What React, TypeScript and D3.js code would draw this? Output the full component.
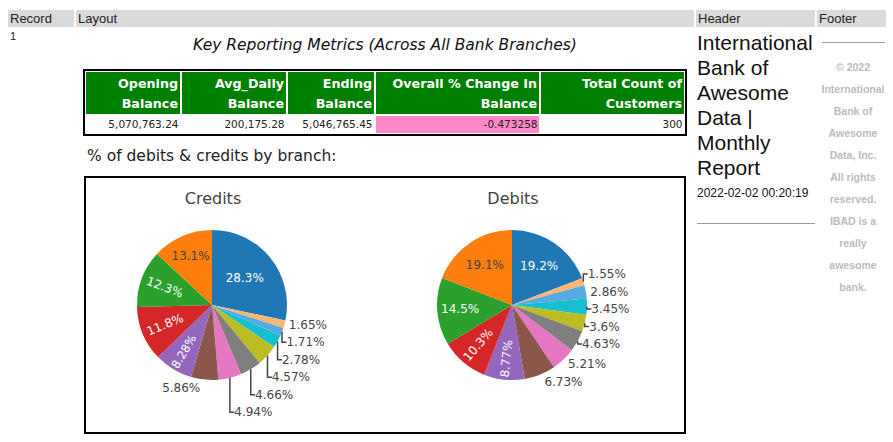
import React, { useEffect, useRef } from "react";
import * as d3 from "d3";

// report metrics table
const metricHeaders = [
  ["Opening", "Balance"],
  ["Avg_Daily", "Balance"],
  ["Ending", "Balance"],
  ["Overall % Change In", "Balance"],
  ["Total Count of", "Customers"],
];
const metricValues = ["5,070,763.24", "200,175.28", "5,046,765.45", "-0.473258", "300"];
const highlightCol = 3;

// pie shares (%), clockwise from 12 o'clock
const creditShares = [28.3, 1.65, 1.71, 2.78, 4.57, 4.66, 4.94, 5.86, 8.28, 11.8, 12.3, 13.1];
const debitShares = [19.2, 1.55, 2.86, 3.45, 3.6, 4.63, 5.21, 6.73, 8.77, 10.3, 14.5, 19.1];
const sliceColorIndex = [0, 11, 10, 9, 8, 7, 6, 5, 4, 3, 2, 1];

const headerTitle = ["International", "Bank of", "Awesome", "Data |", "Monthly", "Report"];
const reportDate = "2022-02-02 00:20:19";
const footerLines = [
  "© 2022", "International", "Bank of", "Awesome", "Data, Inc.", "All rights",
  "reserved.", "IBAD is a", "really", "awesome", "bank.",
];

const colorway = [
  "#1f77b4", "#ff7f0e", "#2ca02c", "#d62728", "#9467bd",
  "#8c564b", "#e377c2", "#7f7f7f", "#bcbd22", "#17becf",
];
// plotly extends the colorway with lightened copies
const extendedColors = colorway.concat(
  colorway.map((c) => {
    const h = d3.hsl(c);
    h.l = Math.min(1, h.l + 0.2);
    return h.formatHex();
  })
);

const PIE_FONT = "'DejaVu Sans', Verdana, sans-serif";
const R = 75;
const TEXT_H = 17.5;
const TEXTPAD = 3;

function isLight(c) {
  const rgb = d3.rgb(c);
  return (rgb.r * 299 + rgb.g * 587 + rgb.b * 114) / 1000 >= 128;
}

function maxHalfSize(a, halfAngle, r) {
  const q = a + 1 / (2 * Math.tan(halfAngle));
  return r * Math.min(1 / (Math.sqrt(q * q + 0.5) + q), 1 / (Math.sqrt(a * a + 0.5) + a));
}

function rotFor(theta) {
  // theta clockwise from top, radians -> readable rotation in degrees
  let d = ((theta * 180) / Math.PI - 90) % 180;
  if (d < 0) d += 180;
  if (d > 90) d -= 180;
  return d;
}

function drawPie(svg, shares, cx, cy, title) {
  const g = svg.append("g").attr("transform", `translate(${cx},${cy})`);
  const fmt = d3.format(".3~r");
  const arcs = d3.pie().sort(null).value((d) => d)(shares);
  const arc = d3.arc().innerRadius(0).outerRadius(R);

  g.selectAll("path.slice")
    .data(arcs)
    .join("path")
    .attr("class", "slice")
    .attr("d", arc)
    .attr("fill", (d, i) => extendedColors[sliceColorIndex[i]]);

  svg
    .append("text")
    .attr("x", cx + 1)
    .attr("y", cy - 107)
    .attr("text-anchor", "middle")
    .attr("dominant-baseline", "central")
    .style("font-family", PIE_FONT)
    .style("font-size", "16px")
    .attr("fill", "#444")
    .text(title);

  const measure = (s) => {
    const t = g.append("text").style("font-family", PIE_FONT).style("font-size", "12px").text(s);
    const w = t.node().getComputedTextLength();
    t.remove();
    return w;
  };

  const outside = [];
  arcs.forEach((a, i) => {
    const label = fmt(a.data) + "%";
    const w = measure(label);
    const h = TEXT_H;
    const half = (a.endAngle - a.startAngle) / 2;
    const mid = (a.startAngle + a.endAngle) / 2;
    const sx = Math.sin(mid);
    const sy = -Math.cos(mid);
    const color = extendedColors[sliceColorIndex[i]];

    // try horizontal inside
    const sinH = Math.sin(half);
    const rIns = Math.min(sinH / (1 + sinH), 0.5);
    const diam = Math.sqrt(w * w + h * h);
    const cands = [];
    const hScale = (rIns * R * 2) / diam;
    let best = null;
    if (hScale >= 1) {
      best = { scale: 1, rCenter: 1 - rIns, rotate: 0 };
    } else {
      cands.push({ scale: hScale, rCenter: 1 - rIns, rotate: 0 });
      const rr = R - 2 * TEXTPAD;
      const aR = w / h;
      const sR = maxHalfSize(aR, half, rr);
      cands.push({ scale: (sR * 2) / h, rCenter: Math.cos(sR / rr) - aR * (sR / rr), rotate: rotFor(mid) });
      const aT = h / w;
      const sT = maxHalfSize(aT, half, rr);
      cands.push({ scale: (sT * 2) / w, rCenter: Math.cos(sT / rr) - aT * (sT / rr), rotate: rotFor(mid + Math.PI / 2) });
      best = cands.reduce((m, c) => (c.scale > m.scale ? c : m));
    }

    if (best.scale >= 0.9) {
      const x = sx * R * best.rCenter;
      const y = sy * R * best.rCenter;
      g.append("text")
        .attr("transform", `translate(${x},${y}) rotate(${best.rotate}) scale(${Math.min(1, best.scale)})`)
        .attr("text-anchor", "middle")
        .attr("dominant-baseline", "central")
        .style("font-family", PIE_FONT)
        .style("font-size", "12px")
        .attr("fill", isLight(color) ? "#444" : "#fff")
        .text(label);
    } else {
      const px = sx * R;
      const py = sy * R;
      let dx = w / 2;
      let dy = h / 2;
      if (px < 0) dx *= -1;
      if (py < 0) dy *= -1;
      const tx = dx + (Math.abs(dy) * (dx > 0 ? 1 : -1)) / 2;
      const ty = Math.abs(py) < 1e-6 ? 0 : dy / (1 + (px * px) / (py * py));
      outside.push({ label, px, py, w, cxBox: px + tx, y: py + ty, y0: py + ty, right: px >= 0 });
    }
  });

  // push colliding outside labels away from the equator
  [true, false].forEach((side) => {
    const items = outside.filter((o) => o.right === side);
    const upper = items.filter((o) => o.y0 < 0).sort((a, b) => b.y0 - a.y0);
    const lower = items.filter((o) => o.y0 >= 0).sort((a, b) => a.y0 - b.y0);
    for (let k = 1; k < upper.length; k++) {
      if (upper[k].y > upper[k - 1].y - TEXT_H) upper[k].y = upper[k - 1].y - TEXT_H;
    }
    let prev = upper.length ? upper[0].y : null;
    lower.forEach((o) => {
      if (prev !== null && o.y < prev + TEXT_H) o.y = prev + TEXT_H;
      prev = o.y;
    });
  });

  outside.forEach((o) => {
    const edgeX = o.right ? o.cxBox - o.w / 2 : o.cxBox + o.w / 2;
    if (Math.abs(o.y - o.y0) > 0.5) {
      g.append("path")
        .attr("d", `M${o.px},${o.py}V${o.y}H${edgeX}`)
        .attr("fill", "none")
        .attr("stroke", "#444")
        .attr("stroke-width", 1.5);
    }
    g.append("text")
      .attr("x", edgeX)
      .attr("y", o.y)
      .attr("text-anchor", o.right ? "start" : "end")
      .attr("dominant-baseline", "central")
      .style("font-family", PIE_FONT)
      .style("font-size", "12px")
      .attr("fill", "#444")
      .text(o.label);
  });
}

export default function App() {
  const ref = useRef(null);

  useEffect(() => {
    const svg = d3.select(ref.current);
    svg.selectAll("*").remove();

    const ARIAL = "'Liberation Sans', Arial, sans-serif";
    const TAHOMA = "'DejaVu Sans', Tahoma, sans-serif";

    // column header bars
    const bars = [
      { x: 8, w: 66, t: "Record" },
      { x: 76, w: 618, t: "Layout" },
      { x: 696, w: 119, t: "Header" },
      { x: 817, w: 69, t: "Footer" },
    ];
    bars.forEach((b) => {
      svg.append("rect").attr("x", b.x).attr("y", 10).attr("width", b.w).attr("height", 17).attr("fill", "#dadada");
      svg
        .append("text")
        .attr("x", b.x + 2)
        .attr("y", 23)
        .style("font-family", ARIAL)
        .style("font-size", "13px")
        .attr("fill", "#222")
        .text(b.t);
    });
    svg.append("text").attr("x", 10).attr("y", 40).style("font-family", ARIAL).style("font-size", "11px").attr("fill", "#222").text("1");

    // title
    svg
      .append("text")
      .attr("x", 385)
      .attr("y", 45)
      .attr("text-anchor", "middle")
      .attr("dominant-baseline", "central")
      .style("font-family", TAHOMA)
      .style("font-style", "italic")
      .style("font-size", "15.5px")
      .attr("fill", "#111")
      .text("Key Reporting Metrics (Across All Bank Branches)");

    // metrics table
    const cols = [
      [86, 180],
      [182, 286],
      [288, 374],
      [376, 539],
      [541, 684],
    ];
    svg.append("rect").attr("x", 84).attr("y", 70).attr("width", 602).attr("height", 65).attr("fill", "none").attr("stroke", "#000").attr("stroke-width", 2);
    cols.forEach(([x0, x1], i) => {
      svg.append("rect").attr("x", x0).attr("y", 72).attr("width", x1 - x0).attr("height", 42).attr("fill", "#008000");
      metricHeaders[i].forEach((line, j) => {
        svg
          .append("text")
          .attr("x", x1 - 2)
          .attr("y", 83 + j * 20)
          .attr("text-anchor", "end")
          .attr("dominant-baseline", "central")
          .style("font-family", TAHOMA)
          .style("font-weight", "bold")
          .style("font-size", "12.7px")
          .attr("fill", "#fff")
          .text(line);
      });
      if (i === highlightCol) {
        svg.append("rect").attr("x", x0).attr("y", 116).attr("width", x1 - x0).attr("height", 17).attr("fill", "#ff88c8");
      }
      svg
        .append("text")
        .attr("x", x1 - 1.5)
        .attr("y", 124)
        .attr("text-anchor", "end")
        .attr("dominant-baseline", "central")
        .style("font-family", TAHOMA)
        .style("font-size", "10.5px")
        .attr("fill", "#222")
        .text(metricValues[i]);
    });

    svg
      .append("text")
      .attr("x", 87)
      .attr("y", 156)
      .attr("dominant-baseline", "central")
      .style("font-family", TAHOMA)
      .style("font-size", "15.5px")
      .attr("fill", "#222")
      .text("% of debits & credits by branch:");

    // chart box
    svg.append("rect").attr("x", 85).attr("y", 177).attr("width", 600).attr("height", 256).attr("fill", "#fff").attr("stroke", "#000").attr("stroke-width", 2);
    drawPie(svg, creditShares, 212, 305, "Credits");
    drawPie(svg, debitShares, 512, 305, "Debits");

    // header column
    headerTitle.forEach((line, i) => {
      svg
        .append("text")
        .attr("x", 697)
        .attr("y", 42 + i * 25)
        .attr("dominant-baseline", "central")
        .style("font-family", ARIAL)
        .style("font-size", "21px")
        .attr("fill", "#111")
        .text(line);
    });
    svg.append("text").attr("x", 697).attr("y", 193).attr("dominant-baseline", "central").style("font-family", ARIAL).style("font-size", "12px").attr("fill", "#111").text(reportDate);
    svg.append("line").attr("x1", 697).attr("x2", 815).attr("y1", 223.5).attr("y2", 223.5).attr("stroke", "#999").attr("stroke-width", 1);

    // footer column
    svg.append("line").attr("x1", 822).attr("x2", 885).attr("y1", 42.5).attr("y2", 42.5).attr("stroke", "#999").attr("stroke-width", 1);
    footerLines.forEach((line, i) => {
      svg
        .append("text")
        .attr("x", 853)
        .attr("y", 67 + i * 22)
        .attr("text-anchor", "middle")
        .attr("dominant-baseline", "central")
        .style("font-family", ARIAL)
        .style("font-weight", "bold")
        .style("font-size", "10.5px")
        .attr("fill", "#bbb")
        .text(line);
    });
  }, []);

  return (
    <svg
      ref={ref}
      width={893}
      height={442}
      style={{ position: "absolute", left: 0, top: 0, background: "#fff" }}
    />
  );
}
